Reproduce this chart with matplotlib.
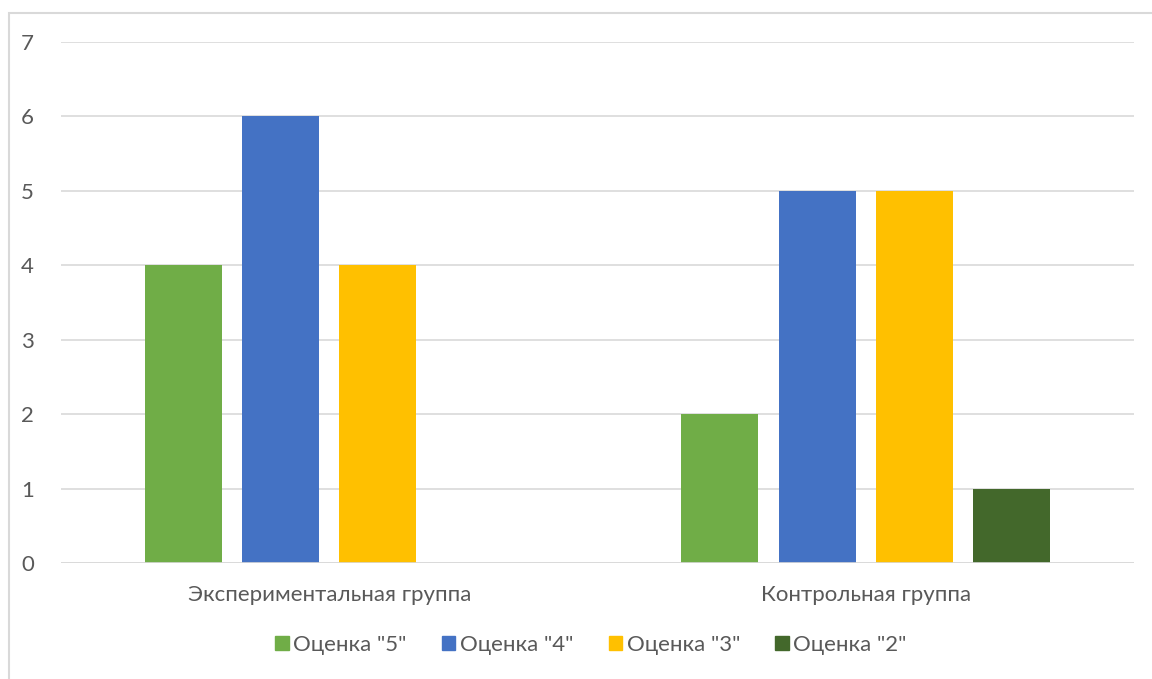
import numpy as np
import matplotlib.pyplot as plt
from matplotlib.patches import Rectangle

plt.rcParams['font.family'] = ['Lato', 'DejaVu Sans']

groups = ["Экспериментальная группа", "Контрольная группа"]
series = ['Оценка "5"', 'Оценка "4"', 'Оценка "3"', 'Оценка "2"']
values = [
    [4, 2],
    [6, 5],
    [4, 5],
    [0, 1],
]
colors = ["#70AD47", "#4472C4", "#FFC000", "#43682B"]
yticks = [0, 1, 2, 3, 4, 5, 6, 7]

txt = "#595959"
grid = "#D9D9D9"

fig = plt.figure(figsize=(11.52, 6.79), dpi=100)
ax = fig.add_axes([61 / 1152, 1 - 563 / 679, (1134 - 61) / 1152, (563 - 42) / 679])

x = np.arange(len(groups))
step = 0.1817
width = 0.1435
handles = []
for i, (name, vals, c) in enumerate(zip(series, values, colors)):
    ax.bar(x + (i - 1.5) * step, vals, width, color=c, zorder=3)
    handles.append(Rectangle((0, 0), 1, 1, color=c))

ax.set_xlim(-0.5, 1.5)
ax.set_ylim(0, 7)
ax.set_yticks(yticks)
ax.set_xticks(x)
ax.set_xticklabels(groups)
ax.yaxis.grid(True, color=grid, lw=1.2, zorder=0)
ax.axhline(0, color=grid, lw=1.2, zorder=4)
for s in ax.spines.values():
    s.set_visible(False)
ax.tick_params(axis="both", length=0, colors=txt, labelsize=16)
ax.tick_params(axis="y", pad=24)
ax.tick_params(axis="x", pad=16)
for lab in ax.get_yticklabels():
    lab.set_horizontalalignment("center")

fig.legend(handles, series, loc="center", bbox_to_anchor=(591 / 1152, 1 - 645 / 679),
           ncol=4, frameon=False, fontsize=16, labelcolor=txt,
           handlelength=0.6, handleheight=0.6, handletextpad=0.2, columnspacing=1.6)

# chart area border (only top and left are inside the picture)
fig.patches.append(Rectangle((9 / 1152, -0.1), 1.2, 1 - 13 / 679 + 0.1,
                             transform=fig.transFigure, fill=False,
                             edgecolor="#D9D9D9", lw=1.5))

fig.savefig("out.png", dpi=100)
